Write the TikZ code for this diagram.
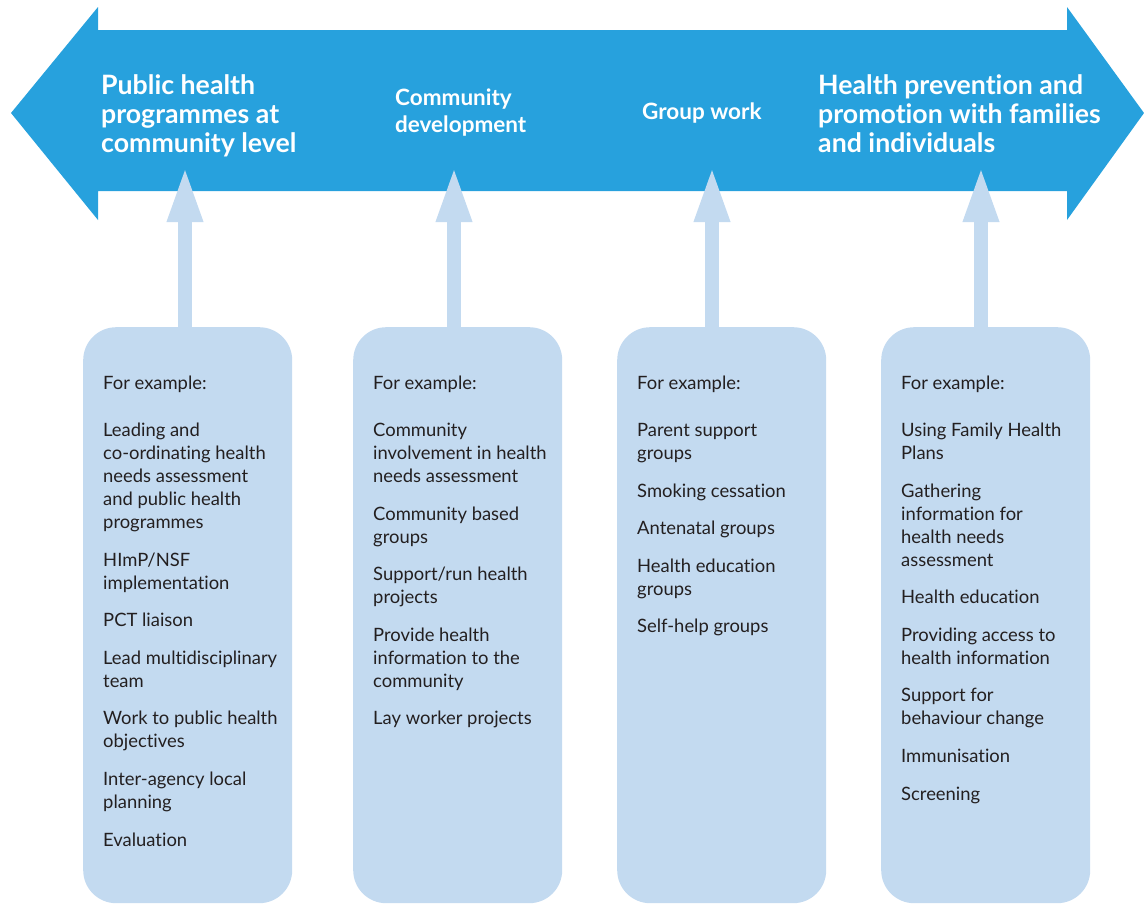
\documentclass[tikz,border=0pt]{standalone}
\usepackage{fontspec}
\setmainfont[Ligatures=NoCommon]{Lato}
\usetikzlibrary{arrows.meta}
\definecolor{bigblue}{HTML}{27A1DD}
\definecolor{lightblue}{HTML}{C3DAF0}
\definecolor{textdark}{HTML}{231F20}
\tikzset{
  bigarrow/.style={fill=bigblue, draw=none},
  title/.style={text=white, font=\bfseries\fontsize{26.7}{29}\selectfont, align=left, inner sep=0pt, anchor=west},
  subtitle/.style={text=white, font=\bfseries\fontsize{22.5}{27}\selectfont, align=left, inner sep=0pt, anchor=west},
  boxnode/.style={fill=lightblue, draw=none, rounded corners=33pt, minimum width=209pt, minimum height=576pt, anchor=north west, inner sep=0pt},
  items/.style={text=textdark, font=\fontsize{18.4}{23}\selectfont, align=left, inner sep=0pt, anchor=north west},
  uparrow/.style={draw=lightblue, line width=14pt, -{Triangle[length=57pt,width=32pt]}},
}
\begin{document}
\begin{tikzpicture}[x=1pt,y=-1pt]
\useasboundingbox (0,0) rectangle (1144,903);
% big double arrow
\path[bigarrow] (11,113) -- (98,7) -- (98,30) -- (1067,30) -- (1067,7) -- (1144,113)
  -- (1067,220) -- (1067,191) -- (98,191) -- (98,220) -- cycle;
% titles
\node[title] (h1) at (101,115.5) {Public health\\programmes at\\community level};
\node[subtitle] (h2) at (395,112.5) {Community\\development};
\node[subtitle] (h3) at (642,113) {Group work};
\node[title] (h4) at (818,114) {Health prevention and\\promotion with families\\and individuals};
% boxes
\node[boxnode] (b1) at (83,327) {};
\node[boxnode] (b2) at (353,327) {};
\node[boxnode] (b3) at (617,327) {};
\node[boxnode] (b4) at (881,327) {};
% arrow tips
\coordinate (a1) at (185,165);
\coordinate (a2) at (454,165);
\coordinate (a3) at (712,165);
\coordinate (a4) at (981,165);
\draw[uparrow] (a1 |- b1.north) -- (a1);
\draw[uparrow] (a2 |- b2.north) -- (a2);
\draw[uparrow] (a3 |- b3.north) -- (a3);
\draw[uparrow] (a4 |- b4.north) -- (a4);
% texts
\node[items] (t1) at (103,375.8) {For example:\\[24pt]
Leading and\\co-ordinating health\\needs assessment\\and public health\\programmes\\[14.6pt]
HImP/NSF\\implementation\\[14.6pt]
PCT liaison\\[14.6pt]
Lead multidisciplinary\\team\\[14.6pt]
Work to public health\\objectives\\[14.6pt]
Inter-agency local\\planning\\[14.6pt]
Evaluation};
\node[items] (t2) at (373,375.8) {For example:\\[24pt]
Community\\involvement in health\\needs assessment\\[14.6pt]
Community based\\groups\\[14.6pt]
Support/run health\\projects\\[14.6pt]
Provide health\\information to the\\community\\[14.6pt]
Lay worker projects};
\node[items] (t3) at (637,375.8) {For example:\\[24pt]
Parent support\\groups\\[14.6pt]
Smoking cessation\\[14.6pt]
Antenatal groups\\[14.6pt]
Health education\\groups\\[14.6pt]
Self-help groups};
\node[items] (t4) at (901,375.8) {For example:\\[24pt]
Using Family Health\\Plans\\[14.6pt]
Gathering\\information for\\health needs\\assessment\\[14.6pt]
Health education\\[14.6pt]
Providing access to\\health information\\[14.6pt]
Support for\\behaviour change\\[14.6pt]
Immunisation\\[14.6pt]
Screening};
\end{tikzpicture}
\end{document}
